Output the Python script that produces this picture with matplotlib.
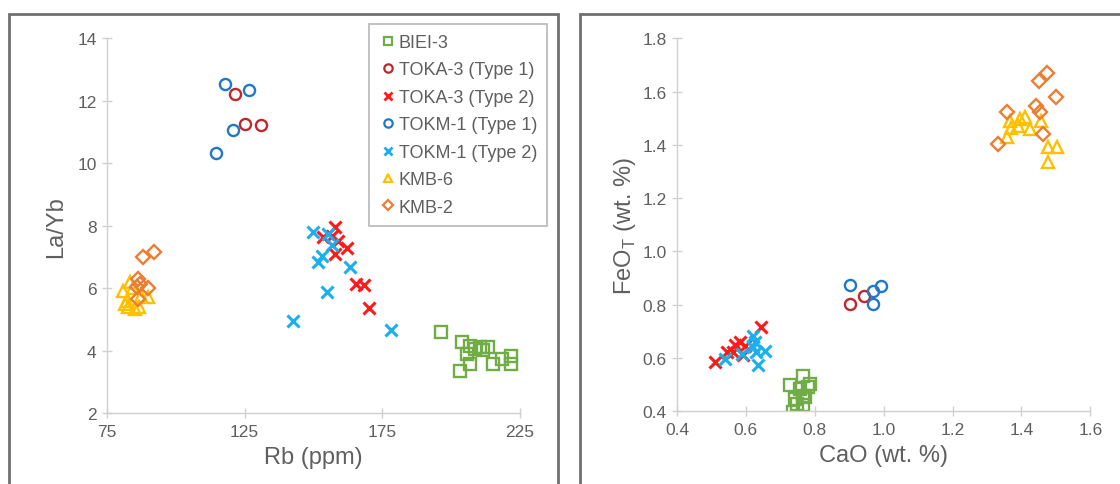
import matplotlib
matplotlib.use("Agg")

import matplotlib.pyplot as plt
from matplotlib.patches import Rectangle

plt.rcParams["font.family"] = ["Liberation Sans", "DejaVu Sans"]

# Datos panel izquierdo: Rb (ppm) vs La/Yb
rb_biei3 = [196.2, 203.8, 206.8, 210.4, 213.5, 211.6, 205.6, 206.8, 203.2, 215.3, 218.3, 221.9, 221.9, 208.5]
layb_biei3 = [4.59, 4.27, 4.14, 4.11, 4.11, 4.03, 3.90, 3.58, 3.36, 3.58, 3.74, 3.84, 3.58, 4.05]
rb_toka3_t1 = [121.6, 125.1, 131.0]
layb_toka3_t1 = [12.23, 11.25, 11.24]
rb_toka3_t2 = [157.8, 153.5, 156.6, 162.0, 157.8, 158.8, 165.6, 168.4, 170.3]
layb_toka3_t2 = [7.95, 7.63, 7.68, 7.28, 7.10, 7.50, 6.14, 6.10, 5.36]
rb_tokm1_t1 = [117.9, 126.4, 120.7, 114.5]
layb_tokm1_t1 = [12.54, 12.36, 11.08, 10.32]
rb_tokm1_t2 = [149.9, 155.4, 156.6, 153.0, 151.8, 163.2, 154.8, 142.6, 178.3]
layb_tokm1_t2 = [7.79, 7.74, 7.37, 7.04, 6.83, 6.67, 5.89, 4.96, 4.68]
rb_kmb6 = [83.3, 80.9, 82.1, 82.7, 86.7, 90.0, 85.3, 84.5, 87.5, 81.5]
layb_kmb6 = [6.19, 5.92, 5.60, 5.39, 5.39, 5.71, 5.33, 6.00, 5.75, 5.50]
rb_kmb2 = [88.2, 92.1, 86.4, 90.0, 85.8, 86.4, 87.0]
layb_kmb2 = [7.00, 7.17, 6.30, 6.00, 6.03, 5.66, 6.15]

# Datos panel derecho: CaO vs FeOT (wt. %)
cao_biei3 = [0.728, 0.766, 0.757, 0.781, 0.766, 0.742, 0.747, 0.737, 0.766, 0.772, 0.785]
feo_biei3 = [0.500, 0.534, 0.484, 0.490, 0.459, 0.447, 0.428, 0.397, 0.425, 0.455, 0.502]
cao_toka3_t1 = [0.902, 0.943]
feo_toka3_t1 = [0.803, 0.834]
cao_toka3_t2 = [0.643, 0.510, 0.544, 0.568, 0.583, 0.597, 0.563, 0.592]
feo_toka3_t2 = [0.716, 0.584, 0.624, 0.647, 0.659, 0.644, 0.622, 0.612]
cao_tokm1_t1 = [0.902, 0.968, 0.991, 0.968]
feo_tokm1_t1 = [0.874, 0.853, 0.869, 0.803]
cao_tokm1_t2 = [0.539, 0.588, 0.621, 0.626, 0.655, 0.636, 0.630, 0.621]
feo_tokm1_t2 = [0.597, 0.615, 0.684, 0.659, 0.628, 0.572, 0.622, 0.640]
cao_kmb6 = [1.366, 1.395, 1.410, 1.390, 1.424, 1.458, 1.357, 1.478, 1.502, 1.478, 1.370]
feo_kmb6 = [1.491, 1.497, 1.504, 1.472, 1.460, 1.491, 1.429, 1.391, 1.391, 1.335, 1.465]
cao_kmb2 = [1.473, 1.451, 1.500, 1.442, 1.455, 1.359, 1.463, 1.332]
feo_kmb2 = [1.670, 1.641, 1.579, 1.547, 1.525, 1.525, 1.441, 1.403]

etiquetas = ["BIEI-3", "TOKA-3 (Type 1)", "TOKA-3 (Type 2)", "TOKM-1 (Type 1)",
             "TOKM-1 (Type 2)", "KMB-6", "KMB-2"]
estilos = [
    ("s", "#70AD47", 8),
    ("o", "#C0272D", 8),
    ("x", "#FF1A1A", 8),
    ("o", "#1F78C8", 8),
    ("x", "#1AB0F0", 8),
    ("^", "#FFC000", 8.5),
    ("D", "#ED7D31", 7),
]

izq = [(rb_biei3, layb_biei3), (rb_toka3_t1, layb_toka3_t1), (rb_toka3_t2, layb_toka3_t2),
       (rb_tokm1_t1, layb_tokm1_t1), (rb_tokm1_t2, layb_tokm1_t2),
       (rb_kmb6, layb_kmb6), (rb_kmb2, layb_kmb2)]
der = [(cao_biei3, feo_biei3), (cao_toka3_t1, feo_toka3_t1), (cao_toka3_t2, feo_toka3_t2),
       (cao_tokm1_t1, feo_tokm1_t1), (cao_tokm1_t2, feo_tokm1_t2),
       (cao_kmb6, feo_kmb6), (cao_kmb2, feo_kmb2)]

gris = "#5F5F5F"
gris_eje = "#D0D0D0"

fig = plt.figure(figsize=(11.2, 4.85), dpi=100)

# Marcos de cada panel
fig.patches.append(Rectangle((9 / 1120, -0.1), 549 / 1120, 1.1 - 15 / 485, transform=fig.transFigure,
                             fill=False, edgecolor="#707070", linewidth=2))
fig.patches.append(Rectangle((580 / 1120, -0.1), 600 / 1120, 1.1 - 15 / 485, transform=fig.transFigure,
                             fill=False, edgecolor="#707070", linewidth=2))

ax1 = fig.add_axes([107 / 1120, 1 - 414.3 / 485, 413 / 1120, 375 / 485])
ax2 = fig.add_axes([677 / 1120, 1 - 412.3 / 485, 413.4 / 1120, 373 / 485])


def dibujar(ax, datos):
    for (x, y), (m, c, s) in zip(datos, estilos):
        mew = 2.2 if m == "x" else 1.7
        ax.plot(x, y, linestyle="none", marker=m, markersize=s, markerfacecolor="none",
                markeredgecolor=c, markeredgewidth=mew)
    for lado in ["top", "right"]:
        ax.spines[lado].set_visible(False)
    for lado in ["left", "bottom"]:
        ax.spines[lado].set_color(gris_eje)
        ax.spines[lado].set_linewidth(1)
    ax.tick_params(direction="inout", length=7, width=1, color=gris_eje,
                   labelcolor=gris, labelsize=12.5, pad=4)
    ax.patch.set_alpha(0)


dibujar(ax1, izq)
ax1.set_xlim(75, 225)
ax1.set_ylim(2, 14)
ax1.set_xticks([75, 125, 175, 225])
ax1.set_yticks([2, 4, 6, 8, 10, 12, 14])
ax1.set_xlabel("Rb (ppm)", fontsize=17, color=gris, labelpad=5)
ax1.set_ylabel("La/Yb", fontsize=17, color=gris, labelpad=7)

dibujar(ax2, der)
ax2.set_xlim(0.4, 1.6)
ax2.set_ylim(0.4, 1.8)
ax2.set_xticks([0.4, 0.6, 0.8, 1.0, 1.2, 1.4, 1.6])
ax2.set_yticks([0.4, 0.6, 0.8, 1.0, 1.2, 1.4, 1.6, 1.8])
ax2.xaxis.set_major_formatter(lambda v, p: f"{v:.1f}")
ax2.yaxis.set_major_formatter(lambda v, p: f"{v:.1f}")
ax2.set_xlabel("CaO (wt. %)", fontsize=17, color=gris, labelpad=5)
ax2.set_ylabel(r"FeO$_\mathregular{T}$ (wt. %)", fontsize=17, color=gris, labelpad=3)

# Leyenda
manejadores = []
for (m, c, s) in estilos:
    mew = 2 if m == "x" else 1.6
    h, = ax1.plot([], [], linestyle="none", marker=m, markersize=s * 0.75, markerfacecolor="none",
                  markeredgecolor=c, markeredgewidth=mew)
    manejadores.append(h)
leg = ax1.legend(manejadores, etiquetas, loc="upper right", bbox_to_anchor=(547 / 1120, 1 - 25 / 485),
                 bbox_transform=fig.transFigure, fontsize=13, frameon=True, fancybox=False,
                 edgecolor="#A6A6A6", handlelength=1.0, handletextpad=0.1, labelspacing=0.58,
                 borderpad=0.55, borderaxespad=0)
leg.get_frame().set_linewidth(1.2)
for t in leg.get_texts():
    t.set_color(gris)

plt.savefig("out.png", dpi=100)
